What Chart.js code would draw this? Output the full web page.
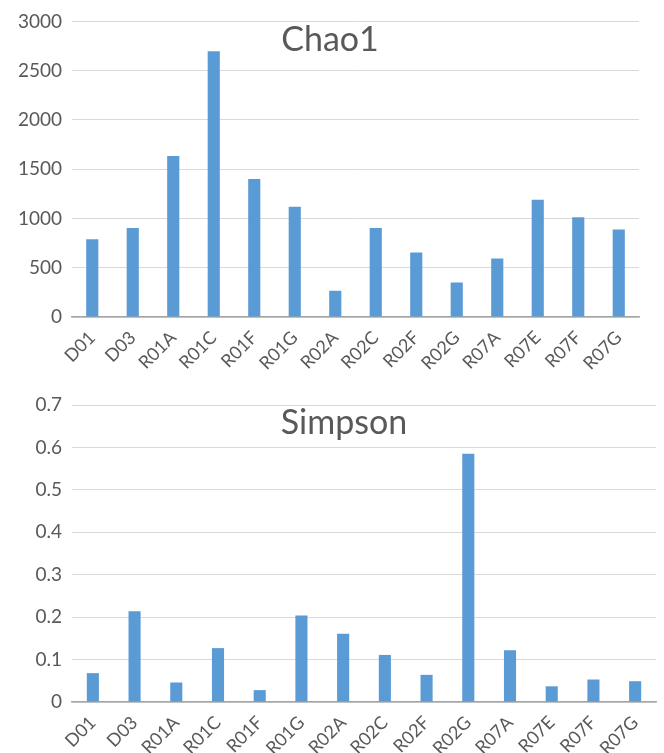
<!DOCTYPE html>
<html>
<head>
<meta charset="utf-8">
<script src="https://cdn.jsdelivr.net/npm/chart.js@4.4.1/dist/chart.umd.min.js"></script>
<style>
  body { margin: 0; background: #fff; width: 664px; height: 753px; overflow: hidden; }
  .box { position: absolute; left: 0; width: 664px; }
  #top { top: 0; height: 380px; }
  #bottom { top: 380px; height: 373px; }
</style>
</head>
<body>
<div class="box" id="top"><canvas id="chao1Chart"></canvas></div>
<div class="box" id="bottom"><canvas id="simpsonChart"></canvas></div>
<script>
// Дані
const samples = ['D01', 'D03', 'R01A', 'R01C', 'R01F', 'R01G', 'R02A', 'R02C', 'R02F', 'R02G', 'R07A', 'R07E', 'R07F', 'R07G'];
const chao1Values = [790, 904, 1633, 2696, 1400, 1120, 267, 904, 655, 351, 594, 1191, 1012, 887];
const simpsonValues = [0.068, 0.214, 0.046, 0.127, 0.028, 0.204, 0.161, 0.111, 0.064, 0.585, 0.122, 0.037, 0.053, 0.049];
const chao1Ticks = { max: 3000, step: 500 };
const simpsonTicks = { max: 0.7, step: 0.1 };

const textColor = '#595959';
const fontFamily = 'Lato, "Open Sans", sans-serif';

// Заголовок поверх області графіка, як в Excel
const overlayTitle = {
    id: 'overlayTitle',
    afterDraw(chart, args, opts) {
        const ctx = chart.ctx;
        ctx.save();
        ctx.font = opts.size + 'px ' + fontFamily;
        ctx.fillStyle = textColor;
        ctx.textAlign = 'center';
        ctx.textBaseline = 'middle';
        ctx.fillText(opts.text, opts.x, opts.y);
        ctx.restore();
    }
};

function makeConfig(values, ticks, title, opt) {
    return {
        type: 'bar',
        data: {
            labels: samples,
            datasets: [{
                data: values,
                backgroundColor: '#5b9bd5',
                categoryPercentage: 1,
                barPercentage: opt.bar
            }]
        },
        options: {
            responsive: true,
            maintainAspectRatio: false,
            animation: false,
            layout: { padding: { top: opt.top, right: opt.right, left: 0, bottom: 0 } },
            plugins: {
                legend: { display: false },
                tooltip: { enabled: false },
                overlayTitle: { text: title, x: opt.titleX, y: opt.titleY, size: 34 }
            },
            scales: {
                x: {
                    grid: { display: false },
                    border: { color: '#a6a6a6', width: 1.5 },
                    ticks: {
                        color: textColor,
                        font: { family: fontFamily, size: 18 },
                        minRotation: 45,
                        maxRotation: 45,
                        padding: 2
                    },
                    afterFit(scale) { scale.height = opt.xHeight; }
                },
                y: {
                    min: 0,
                    max: ticks.max,
                    grid: { color: '#d9d9d9', drawTicks: false },
                    border: { display: false },
                    ticks: {
                        stepSize: ticks.step,
                        color: textColor,
                        font: { family: fontFamily, size: 19 },
                        padding: 10,
                        callback: v => String(Math.round(v * 10) / 10)
                    },
                    afterFit(scale) { scale.width = 72; }
                }
            }
        },
        plugins: [overlayTitle]
    };
}

new Chart(document.getElementById('chao1Chart'),
    makeConfig(chao1Values, chao1Ticks, 'Chao1',
        { bar: 0.3, top: 20, right: 25, xHeight: 63, titleX: 330, titleY: 40 }));

new Chart(document.getElementById('simpsonChart'),
    makeConfig(simpsonValues, simpsonTicks, 'Simpson',
        { bar: 0.29, top: 25, right: 8, xHeight: 51, titleX: 344, titleY: 43 }));
</script>
</body>
</html>
